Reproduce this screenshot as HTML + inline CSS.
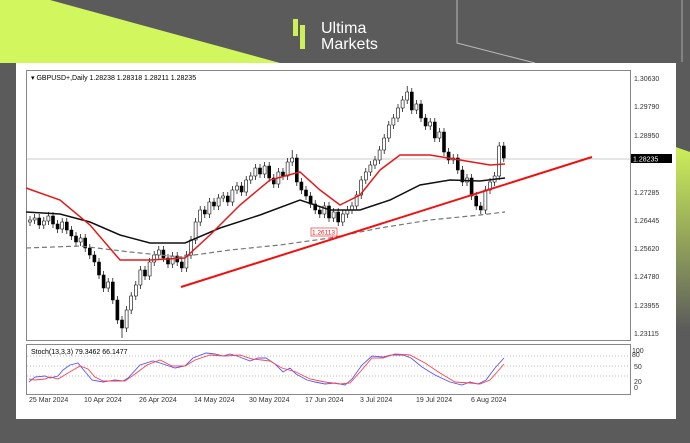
<!DOCTYPE html>
<html><head><meta charset="utf-8"><style>
body{margin:0;width:690px;height:438px;overflow:hidden;background:#5b5b5b;font-family:"Liberation Sans",sans-serif}
</style></head><body>
<svg width="690" height="438" viewBox="0 0 690 438" xmlns="http://www.w3.org/2000/svg" font-family="Liberation Sans, sans-serif">
<defs><linearGradient id="g" x1="0" y1="0" x2="0" y2="1"><stop offset="0" stop-color="#cef05a"/><stop offset="1" stop-color="#5b5b5b"/></linearGradient></defs>
<rect width="690" height="438" fill="#5b5b5b"/>
<polygon points="0,0 50,0 280,63 0,63" fill="#d2f75e"/>
<polygon points="670,145 690,152 690,330 670,330" fill="url(#g)"/>
<polyline points="457,0 457,43 535,63" fill="none" stroke="#bbb" stroke-width="1"/>
<line x1="682" y1="0" x2="682" y2="62" stroke="#aaa"/>
<rect x="293" y="19" width="5" height="17" fill="#cef05a"/><rect x="300" y="25" width="5" height="24" fill="#cef05a"/>
<text x="321" y="33" fill="#fff" font-size="16">Ultima</text>
<text x="321" y="49" fill="#fff" font-size="16">Markets</text>
<rect x="16" y="63" width="660" height="356" fill="#fff"/>
<rect x="26.5" y="70.5" width="604" height="270" fill="none" stroke="#888"/>
<rect x="26.5" y="344.5" width="604" height="50" fill="none" stroke="#888"/>
<line x1="27" y1="159" x2="630" y2="159" stroke="#ccc"/>
<text x="31" y="80" font-size="7" fill="#000">▾ GBPUSD+,Daily  1.28238 1.28318 1.28211 1.28235</text>
<g font-size="7" fill="#333">
<text x="634" y="81">1.30630</text><text x="634" y="109">1.29790</text><text x="634" y="138">1.28950</text>
<text x="634" y="195">1.27285</text><text x="634" y="223">1.26445</text><text x="634" y="251">1.25620</text>
<text x="634" y="279">1.24780</text><text x="634" y="308">1.23955</text><text x="634" y="336">1.23115</text>
<text x="632" y="353">100</text><text x="632" y="357">80</text><text x="634" y="369">50</text><text x="634" y="384">20</text><text x="634" y="390">0</text>
</g>
<rect x="631" y="154" width="41" height="9" fill="#000"/><text x="633" y="161.5" font-size="7" fill="#fff">1.28235</text>
<g font-size="7" fill="#333">
<text x="29" y="402">25 Mar 2024</text><text x="84" y="402">10 Apr 2024</text><text x="139" y="402">26 Apr 2024</text>
<text x="194" y="402">14 May 2024</text><text x="249" y="402">30 May 2024</text><text x="305" y="402">17 Jun 2024</text>
<text x="360" y="402">3 Jul 2024</text><text x="416" y="402">19 Jul 2024</text><text x="471" y="402">6 Aug 2024</text>
</g>
<g stroke="#bbb" stroke-dasharray="1,2"><line x1="27" y1="356" x2="630" y2="356"/><line x1="27" y1="366" x2="630" y2="366"/><line x1="27" y1="376" x2="630" y2="376"/></g>
<text x="31" y="354" font-size="7" fill="#000">Stoch(13,3,3) 79.3462 66.1477</text>
<path fill="none" stroke="#000" stroke-width="0.7" d="M30 216v10M34.6 214v10M39.2 214v15M43.8 217v12M48.4 212v13M53 212v16M57.6 220v13M62.2 218v15M66.8 218v16M71.4 226v14M76 232v14M80.6 234v12M85.2 234v18M89.8 244v15M94.4 251v15M99 258v21M103.6 271v21M108.2 278v14M112.8 278v26M117.4 296v28M122 316v22M126.6 306v26M131.2 292v22M135.8 281v19M140.4 266v23M145 266v14M149.6 258v22M154.2 251v15M158.8 246v13M163.4 246v16M168 254v14M172.6 252v16M177.2 252v14M181.8 258v14M186.4 251v21M191 236v23M195.6 218v26M200.2 206v20M204.8 206v12M209.4 198v20M214 198v12M218.6 194v16M223.2 192v10M227.8 192v14M232.4 186v20M237 182v12M241.6 182v14M246.2 176v20M250.8 172v12M255.4 164v16M260 164v14M264.6 162v16M269.2 162v20M273.8 174v14M278.4 168v20M283 168v12M287.6 158v22M292.2 150v16M296.8 154v32M301.4 178v16M306 186v14M310.6 192v16M315.2 200v14M319.8 206v12M324.4 202v16M329 202v20M333.6 208v14M338.2 208v18M342.8 210v16M347.4 206v12M352 202v12M356.6 191v19M361.2 176v23M365.8 168v16M370.4 161v15M375 156v13M379.6 146v18M384.2 134v20M388.8 121v21M393.4 114v15M398 104v18M402.6 96v16M407.2 86v18M411.8 88v26M416.4 100v14M421 100v22M425.6 114v16M430.2 118v12M434.8 118v24M439.4 128v14M444 128v28M448.6 148v16M453.2 154v10M457.8 154v20M462.4 166v20M467 174v12M471.6 174v26M476.2 192v18M480.8 202v12M485.4 186v28M490 178v16M494.6 172v14M499.2 142v38M503.8 142v20"/>
<path fill="#fff" stroke="#000" stroke-width="0.6" d="M28.5 220h3v2h-3zM33.1 218h3v2h-3zM42.3 221h3v4h-3zM46.9 216h3v5h-3zM60.7 222h3v7h-3zM79.1 238h3v4h-3zM106.7 282h3v6h-3zM125.1 310h3v18h-3zM129.7 296h3v14h-3zM134.3 285h3v11h-3zM138.9 270h3v15h-3zM148.1 262h3v14h-3zM152.7 255h3v7h-3zM157.3 250h3v5h-3zM171.1 256h3v8h-3zM184.9 255h3v13h-3zM189.5 240h3v15h-3zM194.1 222h3v18h-3zM198.7 210h3v12h-3zM207.9 202h3v12h-3zM217.1 198h3v8h-3zM221.7 196h3v2h-3zM230.9 190h3v12h-3zM235.5 186h3v4h-3zM244.7 180h3v12h-3zM249.3 176h3v4h-3zM253.9 168h3v8h-3zM263.1 166h3v8h-3zM276.9 172h3v12h-3zM286.1 162h3v14h-3zM290.7 158h3v4h-3zM322.9 206h3v8h-3zM332.1 212h3v6h-3zM341.3 214h3v8h-3zM345.9 210h3v4h-3zM350.5 206h3v4h-3zM355.1 195h3v11h-3zM359.7 180h3v15h-3zM364.3 172h3v8h-3zM368.9 165h3v7h-3zM373.5 160h3v5h-3zM378.1 150h3v10h-3zM382.7 138h3v12h-3zM387.3 125h3v13h-3zM391.9 118h3v7h-3zM396.5 108h3v10h-3zM401.1 100h3v8h-3zM405.7 92h3v8h-3zM414.9 104h3v6h-3zM428.7 122h3v4h-3zM437.9 132h3v6h-3zM451.7 158h3v2h-3zM465.5 178h3v4h-3zM483.9 190h3v20h-3zM488.5 182h3v8h-3zM493.1 176h3v6h-3zM497.7 146h3v30h-3z"/>
<path fill="#000" stroke="#000" stroke-width="0.6" d="M37.7 218h3v7h-3zM51.5 216h3v8h-3zM56.1 224h3v5h-3zM65.3 222h3v8h-3zM69.9 230h3v6h-3zM74.5 236h3v6h-3zM83.7 238h3v10h-3zM88.3 248h3v7h-3zM92.9 255h3v7h-3zM97.5 262h3v13h-3zM102.1 275h3v13h-3zM111.3 282h3v18h-3zM115.9 300h3v20h-3zM120.5 320h3v8h-3zM143.5 270h3v6h-3zM161.9 250h3v8h-3zM166.5 258h3v6h-3zM175.7 256h3v6h-3zM180.3 262h3v6h-3zM203.3 210h3v4h-3zM212.5 202h3v4h-3zM226.3 196h3v6h-3zM240.1 186h3v6h-3zM258.5 168h3v6h-3zM267.7 166h3v12h-3zM272.3 178h3v6h-3zM281.5 172h3v4h-3zM295.3 158h3v24h-3zM299.9 182h3v8h-3zM304.5 190h3v6h-3zM309.1 196h3v8h-3zM313.7 204h3v6h-3zM318.3 210h3v4h-3zM327.5 206h3v12h-3zM336.7 212h3v10h-3zM410.3 92h3v18h-3zM419.5 104h3v14h-3zM424.1 118h3v8h-3zM433.3 122h3v16h-3zM442.5 132h3v20h-3zM447.1 152h3v8h-3zM456.3 158h3v12h-3zM460.9 170h3v12h-3zM470.1 178h3v18h-3zM474.7 196h3v10h-3zM479.3 206h3v4h-3zM502.3 146h3v12h-3z"/>
<polyline fill="none" stroke="#777" stroke-width="1.2" stroke-dasharray="5,3" points="26,248 80,246 130,252 180,257 230,250 280,245 330,238 380,228 430,220 480,215 505,212"/>
<polyline fill="none" stroke="#111" stroke-width="1.5" points="26,212 60,214 90,222 120,235 150,243 185,243 220,228 260,215 300,200 330,210 360,210 390,200 420,185 450,180 480,181 505,178"/>
<polyline fill="none" stroke="#e41a1a" stroke-width="1.5" points="26,188 60,200 90,225 120,260 150,260 185,258 210,235 240,205 270,180 300,172 320,190 340,205 360,195 380,170 400,155 430,155 460,160 490,165 505,164"/>
<line x1="181" y1="287" x2="592" y2="157" stroke="#f01010" stroke-width="2"/>
<rect x="311" y="228" width="26" height="8" fill="#fff" stroke="#e41a1a" stroke-width="0.6"/><text x="312" y="234.5" font-size="6.5" fill="#e41a1a">1.26113</text>
<polyline fill="none" stroke="#55f" stroke-width="0.9" points="29,382 35,377 45,376 50,378 58,376 63,370 70,365 78,363 82,368 92,380 103,382 115,380 123,381 128,378 140,365 153,361 160,363 175,368 185,366 193,358 206,353 215,354 223,356 230,354 237,356 250,361 258,358 266,358 275,364 283,372 290,368 296,374 307,380 315,382 325,384 335,383 345,385 352,379 362,365 372,356 383,357 391,355 403,355 411,358 422,367 435,375 450,382 462,385 470,382 478,384 486,380 495,368 504,358"/>
<polyline fill="none" stroke="#f44" stroke-width="0.9" points="29,379 35,380 45,379 50,377 58,379 68,373 80,366 88,369 95,377 103,381 115,381 125,381 135,374 147,365 160,360 172,366 185,366 195,360 210,355 225,356 240,355 252,359 262,360 270,361 282,368 296,372 310,379 325,382 340,384 350,383 360,372 372,358 383,358 395,354 410,355 425,363 440,373 455,382 470,383 480,384 490,380 498,371 504,364"/>
</svg>
</body></html>
